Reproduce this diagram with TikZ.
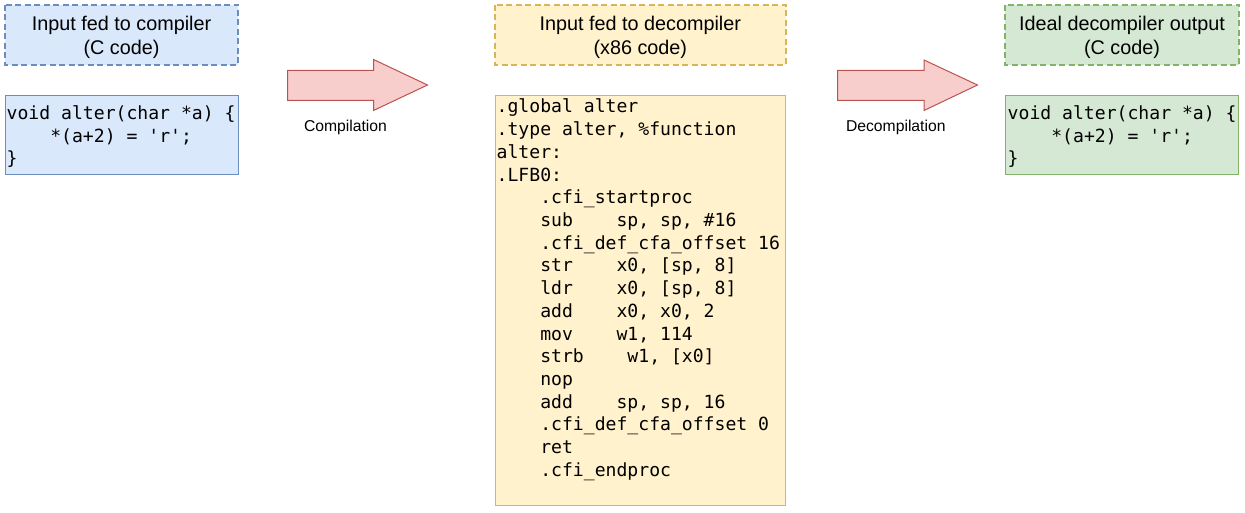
\documentclass[tikz,border=0pt]{standalone}
\usepackage{fontspec}
\setmainfont{Liberation Sans}
\setmonofont{DejaVu Sans Mono}
\definecolor{bfill}{HTML}{DAE8FC}
\definecolor{bline}{HTML}{6C8EBF}
\definecolor{yfill}{HTML}{FFF2CC}
\definecolor{yline}{HTML}{D6B656}
\definecolor{gfill}{HTML}{D5E8D4}
\definecolor{gline}{HTML}{82B366}
\definecolor{rfill}{HTML}{F8CECC}
\definecolor{rline}{HTML}{B85450}
\begin{document}
\begin{tikzpicture}[x=1pt,y=-1pt,
  titlebox/.style={draw, line width=2pt, dash pattern=on 6pt off 3.5pt},
  codebox/.style={draw, line width=1pt},
  ttl/.style={anchor=base, inner sep=0pt, font=\fontsize{19.8}{23.6}\selectfont},
  code/.style={anchor=base west, inner sep=0pt, font=\ttfamily\fontsize{18.1}{22.7}\selectfont},
  lbl/.style={anchor=base, inner sep=0pt, font=\fontsize{15.7}{18}\selectfont},
  bigarrow/.style={draw=rline, fill=rfill, line width=1pt, line join=miter}]
\useasboundingbox (0,0) rectangle (1245,513);

% ---------- left column ----------
\draw[titlebox, draw=bline, fill=bfill] (5,5) rectangle (238,65);
\node[ttl] (t1a) at (121.5,30.7) {Input fed to compiler};
\node[ttl] (t1b) at (121.5,54.3) {(C code)};
\draw[codebox, draw=bline, fill=bfill] (5.5,95.5) rectangle (238,175);
\node[code] (c1) at (6.5,119.5) {void alter(char *a) \{};
\node[code] (c2) at (50.1,142.2) {*(a+2) = 'r';};
\node[code] (c3) at (6.5,164.9) {\}};

% ---------- arrow 1 ----------
\draw[bigarrow] (287.5,70.5) -- (373.5,70.5) -- (373.5,59.5) -- (427.5,85) -- (373.5,110.5) -- (373.5,100.5) -- (287.5,100.5) -- cycle;
\node[lbl] (l1) at (345.5,131.5) {Compilation};

% ---------- middle column ----------
\draw[titlebox, draw=yline, fill=yfill] (495,5) rectangle (785.5,65);
\node[ttl] (t2a) at (640.3,30.7) {Input fed to decompiler};
\node[ttl] (t2b) at (640.3,54.3) {(x86 code)};
\draw[codebox, draw=yline, fill=yfill] (495.5,95.5) rectangle (785.5,505);
\node[code] (m1) at (496.5,113) {.global alter};
\node[code] (m2) at (496.5,135.7) {.type alter, \%function};
\node[code] (m3) at (496.5,158.4) {alter:};
\node[code] (m4) at (496.5,181.1) {.LFB0:};
\node[code] (m5) at (540.1,203.8) {.cfi\_startproc};
\node[code] (m6) at (540.1,226.5) {sub~~~~sp, sp, \#16};
\node[code] (m7) at (540.1,249.2) {.cfi\_def\_cfa\_offset 16};
\node[code] (m8) at (540.1,271.9) {str~~~~x0, [sp, 8]};
\node[code] (m9) at (540.1,294.6) {ldr~~~~x0, [sp, 8]};
\node[code] (m10) at (540.1,317.3) {add~~~~x0, x0, 2};
\node[code] (m11) at (540.1,340.0) {mov~~~~w1, 114};
\node[code] (m12) at (540.1,362.7) {strb~~~~w1, [x0]};
\node[code] (m13) at (540.1,385.4) {nop};
\node[code] (m14) at (540.1,408.1) {add~~~~sp, sp, 16};
\node[code] (m15) at (540.1,430.8) {.cfi\_def\_cfa\_offset 0};
\node[code] (m16) at (540.1,453.5) {ret};
\node[code] (m17) at (540.1,476.2) {.cfi\_endproc};

% ---------- arrow 2 ----------
\draw[bigarrow] (837.5,70.5) -- (924,70.5) -- (924,60) -- (977.5,85) -- (924,110.5) -- (924,100.5) -- (837.5,100.5) -- cycle;
\node[lbl] (l2) at (895.8,131.5) {Decompilation};

% ---------- right column ----------
\draw[titlebox, draw=gline, fill=gfill] (1005,5) rectangle (1239,65);
\node[ttl] (t3a) at (1122,30.7) {Ideal decompiler output};
\node[ttl] (t3b) at (1122,54.3) {(C code)};
\draw[codebox, draw=gline, fill=gfill] (1005.5,95.5) rectangle (1238,175);
\node[code] (r1) at (1007.5,119.5) {void alter(char *a) \{};
\node[code] (r2) at (1051.1,142.2) {*(a+2) = 'r';};
\node[code] (r3) at (1007.5,164.9) {\}};
\end{tikzpicture}
\end{document}
